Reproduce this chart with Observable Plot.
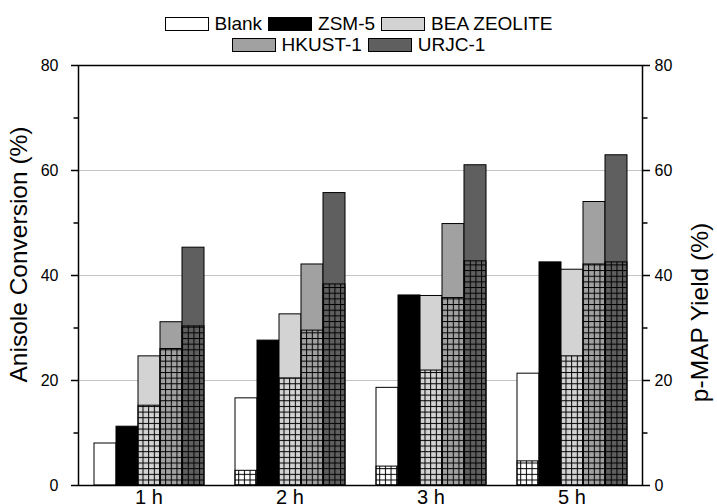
<!DOCTYPE html>
<html>
<head>
<meta charset="utf-8">
<script src="https://cdn.jsdelivr.net/npm/d3@7"></script>
<script src="https://cdn.jsdelivr.net/npm/@observablehq/plot@0.6"></script>
<style>
  html, body { margin: 0; padding: 0; background: #fff; overflow: hidden; }
  body { width: 717px; height: 504px; font-family: Arial, "Liberation Sans", sans-serif; }
  #legend { position: relative; height: 55px; font-size: 19px; color: #000; }
  .row { position: absolute; left: 0; width: 717px; display: flex; justify-content: center; align-items: center; height: 16px; }
  .item { display: flex; align-items: center; margin: 0 3px; }
  .swatch { width: 42px; height: 12px; border: 1px solid #000; margin-right: 6px; }
</style>
</head>
<body>
<div id="legend"></div>
<div id="chart"></div>
<script>
// Reaction times (groups) and catalysts (bars within each group)
const times = ["1 h", "2 h", "3 h", "5 h"];
const catalysts = ["Blank", "ZSM-5", "BEA ZEOLITE", "HKUST-1", "URJC-1"];
const catalystColors = ["#ffffff", "#000000", "#d3d3d3", "#a1a1a1", "#5f5f5f"];

// Anisole conversion (%) per catalyst, one value per reaction time
const conversionBlank = [8.0, 16.6, 18.6, 21.3];
const conversionZSM5 = [11.2, 27.6, 36.2, 42.5];
const conversionBEA = [24.6, 32.6, 36.1, 41.1];
const conversionHKUST = [31.1, 42.1, 49.8, 54.0];
const conversionURJC = [45.3, 55.7, 61.0, 62.9];

// p-MAP yield (%) per catalyst, one value per reaction time
const yieldBlank = [0, 2.8, 3.6, 4.6];
const yieldZSM5 = [0.2, 0.5, 0.3, 0.6];
const yieldBEA = [15.2, 20.4, 21.9, 24.6];
const yieldHKUST = [26.0, 29.5, 35.7, 42.1];
const yieldURJC = [30.3, 38.3, 42.7, 42.5];

// Axis ticks (both axes share the 0–80 % range)
const majorTicks = [0, 20, 40, 60, 80];
const minorTicks = [10, 30, 50, 70];
const gridTicks = [20, 40, 60];

const conversionSeries = [conversionBlank, conversionZSM5, conversionBEA, conversionHKUST, conversionURJC];
const yieldSeries = [yieldBlank, yieldZSM5, yieldBEA, yieldHKUST, yieldURJC];

const rows = times.flatMap((time, i) =>
  catalysts.map((catalyst, j) => ({
    time,
    catalyst,
    conversion: conversionSeries[j][i],
    yield: yieldSeries[j][i]
  }))
);

// Legend: two centred rows of outlined swatches
const legend = document.getElementById("legend");
const legendRows = [catalysts.slice(0, 3), catalysts.slice(3)];
legendRows.forEach((names, r) => {
  const row = document.createElement("div");
  row.className = "row";
  row.style.top = (r === 0 ? 16 : 37) + "px";
  names.forEach((name) => {
    const item = document.createElement("div");
    item.className = "item";
    const sw = document.createElement("span");
    sw.className = "swatch";
    sw.style.background = catalystColors[catalysts.indexOf(name)];
    const label = document.createElement("span");
    label.textContent = name;
    item.append(sw, label);
    row.append(item);
  });
  legend.append(row);
});

const font = "Arial, 'Liberation Sans', sans-serif";

const chart = Plot.plot({
  width: 717,
  height: 470,
  marginTop: 10,
  marginBottom: 40,
  marginLeft: 77,
  marginRight: 74,
  style: { fontFamily: font, background: "#fff", color: "#000", overflow: "visible" },
  fx: { domain: times, padding: 0, label: null },
  x: { domain: catalysts, paddingInner: 0, paddingOuter: 0.625, axis: null },
  y: { domain: [0, 80], label: null },
  color: { domain: catalysts, range: catalystColors },
  marks: [
    Plot.ruleY(gridTicks, { stroke: "#c4c4c4", strokeWidth: 1 }),
    Plot.barY(rows, {
      fx: "time", x: "catalyst", y: "conversion",
      fill: "catalyst", stroke: "#000", strokeWidth: 1
    }),
    Plot.barY(rows, {
      fx: "time", x: "catalyst", y: "yield",
      fill: "url(#yield-grid)", stroke: "#000", strokeWidth: 1,
      ariaLabel: "yield-bar"
    }),
    Plot.frame({ facet: "super", stroke: "#000", strokeWidth: 1.5 }),
    Plot.axisY({
      anchor: "left", ticks: majorTicks, tickSize: 7, tickPadding: 13,
      fontSize: 16, strokeWidth: 1.5, label: null
    }),
    Plot.axisY({
      anchor: "left", ticks: minorTicks, tickSize: 4.5,
      tickFormat: () => "", strokeWidth: 1.5, label: null
    }),
    Plot.axisY({
      anchor: "right", ticks: majorTicks, tickSize: 7, tickPadding: 5,
      fontSize: 16, strokeWidth: 1.5, label: null
    }),
    Plot.axisY({
      anchor: "right", ticks: minorTicks, tickSize: 4.5,
      tickFormat: () => "", strokeWidth: 1.5, label: null
    }),
    Plot.axisFx({ anchor: "bottom", tickSize: 0, tickPadding: 4, fontSize: 20, label: null }),
    Plot.text(["Anisole Conversion (%)"], {
      facet: "super", frameAnchor: "left", textAnchor: "middle", rotate: -90,
      dx: -59, dy: -21, fontSize: 24.5, fill: "#000"
    }),
    Plot.text(["p-MAP Yield (%)"], {
      facet: "super", frameAnchor: "right", textAnchor: "middle", rotate: -90,
      dx: 58, dy: 37, fontSize: 24.5, fill: "#000"
    })
  ]
});

document.getElementById("chart").append(chart);

// Grid hatch for the yield portion, aligned with the bar edges
const firstYield = [...chart.querySelectorAll('g[aria-label="yield-bar"] rect')]
  .find((r) => +r.getAttribute("height") > 0);
const cell = firstYield ? +firstYield.getAttribute("width") / 4 : 5.66;
const px = firstYield ? +firstYield.getAttribute("x") : 0;
const py = firstYield ? +firstYield.getAttribute("y") + +firstYield.getAttribute("height") : 0;
const defs = d3.select(chart).insert("defs", ":first-child");
const pat = defs.append("pattern")
  .attr("id", "yield-grid")
  .attr("patternUnits", "userSpaceOnUse")
  .attr("x", px).attr("y", py)
  .attr("width", cell).attr("height", cell);
pat.append("rect").attr("width", cell).attr("height", 1).attr("fill", "#000");
pat.append("rect").attr("width", 1).attr("height", cell).attr("fill", "#000");
</script>
</body>
</html>
